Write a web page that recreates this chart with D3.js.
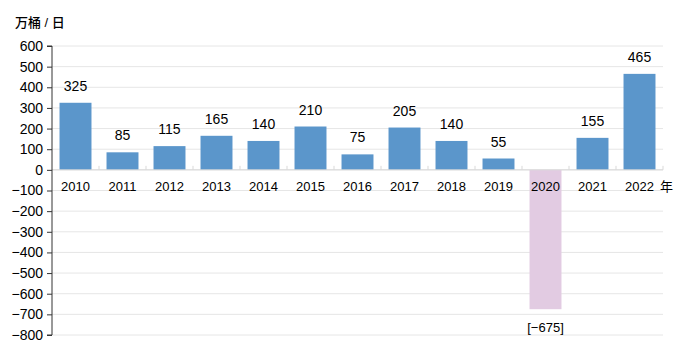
<!DOCTYPE html>
<html><head><meta charset="utf-8">
<script src="https://cdn.jsdelivr.net/npm/d3@7/dist/d3.min.js"></script>
<style>body{margin:0;background:#fff}svg{display:block}text{font-family:"Liberation Sans",Arial,"Noto Sans CJK SC",sans-serif}</style>
</head><body><svg id="c" width="689" height="358"></svg>
<script>
const years = ["2010","2011","2012","2013","2014","2015","2016","2017","2018","2019","2020","2021","2022"];
const values = [325,85,115,165,140,210,75,205,140,55,-675,155,465];
const yTicks = [600,500,400,300,200,100,0,-100,-200,-300,-400,-500,-600,-700,-800];
const yUnit = "万桶 / 日";
const xUnit = "年";

(function(){
const svg = d3.select("#c");
const mL = 52, mR = 663, mT = 46, mB = 335;
const x = d3.scaleBand().domain(years).range([mL, mR]).paddingInner(0.32).paddingOuter(0.16);
const y = d3.scaleLinear().domain([-800, 600]).range([mB, mT]);

// gridlines
svg.append("g").selectAll("line").data(yTicks).join("line")
  .attr("x1", mL).attr("x2", mR).attr("y1", d => y(d)).attr("y2", d => y(d))
  .attr("stroke", "#e6e6e6").attr("stroke-width", 1);

// bars
svg.append("g").selectAll("rect").data(values).join("rect")
  .attr("x", (d, i) => x(years[i]))
  .attr("width", x.bandwidth())
  .attr("y", d => y(Math.max(0, d)))
  .attr("height", d => Math.abs(y(d) - y(0)))
  .attr("fill", d => d < 0 ? "#e2cbe2" : "#5b96cb");

// x boundary ticks
const step = x.step();
const bounds = d3.range(years.length + 1).map(i => mL + i * step);
svg.append("g").selectAll("line").data(bounds.slice(1)).join("line")
  .attr("x1", d => d).attr("x2", d => d).attr("y1", y(0)).attr("y2", y(0) - 4)
  .attr("stroke", "#d9d9d9");
svg.append("line").attr("x1", mL).attr("x2", mR).attr("y1", y(0)).attr("y2", y(0)).attr("stroke", "#d9d9d9");

// y axis
const yAxis = d3.axisLeft(y).tickValues(yTicks).tickSize(5).tickPadding(4)
  .tickFormat(d => d < 0 ? "\u2212" + Math.abs(d) : d);
const ga = svg.append("g").attr("transform", `translate(${mL},0)`).call(yAxis);
ga.select(".domain").attr("stroke", "#333").attr("d", `M-5,${mT}H0V${mB}H-5`);
ga.selectAll(".tick line").attr("stroke", "#333");
ga.selectAll("text").attr("font-size", 14).attr("fill", "#000").attr("font-family", '"Liberation Sans",Arial,sans-serif');

// x labels
svg.append("g").selectAll("text").data(years).join("text")
  .attr("x", d => x(d) + x.bandwidth() / 2).attr("y", y(0) + 21)
  .attr("text-anchor", "middle").attr("font-size", 13).attr("fill", "#000").text(d => d);

// value labels
svg.append("g").selectAll("text").data(values).join("text")
  .attr("x", (d, i) => x(years[i]) + x.bandwidth() / 2)
  .attr("y", d => d < 0 ? y(d) + 23 : y(d) - 12)
  .attr("text-anchor", "middle")
  .attr("font-size", d => d < 0 ? 13 : 14).attr("fill", "#000")
  .text(d => d < 0 ? "[\u2212" + Math.abs(d) + "]" : d);

svg.append("text").attr("x", 15).attr("y", 27).attr("font-size", 13).attr("fill", "#000")
  .attr("font-weight", 500)
  .attr("font-family", '"Noto Sans CJK SC",sans-serif').text(yUnit);
svg.append("text").attr("x", 660).attr("y", y(0) + 21).attr("font-size", 13).attr("fill", "#000")
  .attr("font-family", '"Noto Sans CJK SC",sans-serif').text(xUnit);
})();
</script></body></html>
